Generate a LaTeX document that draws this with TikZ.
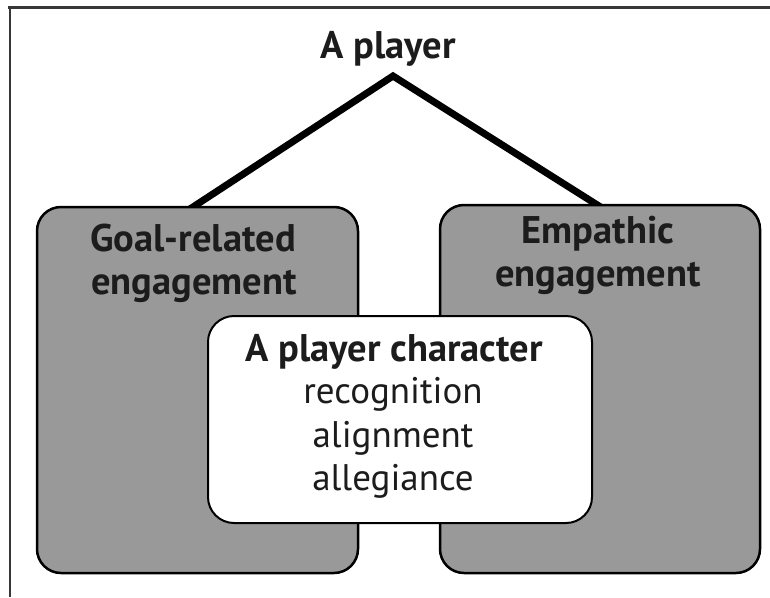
\documentclass[tikz,border=0pt]{standalone}
\usepackage{fontspec}
\setmainfont{PT Sans}
\usetikzlibrary{calc,backgrounds}
\definecolor{boxgray}{RGB}{153,153,153}
\definecolor{inkdark}{RGB}{28,28,28}
\definecolor{framegray}{RGB}{55,55,55}
\begin{document}
\begin{tikzpicture}[x=1pt,y=-1pt,
  panel/.style={draw=black, line width=2.5pt, fill=boxgray, rounded corners=24pt, inner sep=0pt},
  core/.style={draw=black, line width=2pt, fill=white, rounded corners=26pt, inner sep=0pt},
  heading/.style={font=\fontsize{38.5}{43}\selectfont\bfseries, text=inkdark, anchor=base, inner sep=0pt},
  body/.style={font=\fontsize{37}{43}\selectfont, text=inkdark, anchor=base, inner sep=0pt},
  link/.style={line width=7pt, line join=miter}]
\useasboundingbox (0,0) rectangle (770,597);

% frame lines along the top and the left side
\draw[framegray, line width=2.5pt] (8,7.5) -- (770,7.5);
\draw[framegray, line width=1.5pt] (10,7.5) -- (10,597);

% title
\node[heading] (title) at (388,58) {A player};
\coordinate (apex) at (393,76);

% the two engagement panels
\node[panel, minimum width=321pt, minimum height=366pt] (goal) at (197.5,390) {};
\node[panel, minimum width=320pt, minimum height=368pt] (emp) at (600,389) {};

\node[heading] (goal1) at (193,251) {Goal-related};
\node[heading] (goal2) at (194,294) {engagement};
\node[heading] (emp1) at (598,243) {Empathic};
\node[heading] (emp2) at (598,286) {engagement};

% central player-character box
\node[core, minimum width=384pt, minimum height=207pt] (pc) at (400,419.5) {};
\node[heading] (pc1) at (394,361) {A player character};
\node[body] (pc2) at (393,403) {recognition};
\node[body] (pc3) at (393,447) {alignment};
\node[body] (pc4) at (393,490) {allegiance};

% branches from the title down to the panels
\begin{scope}[on background layer]
  \draw[link] ($(goal.north west)+(153,4)$) -- (apex) -- ($(emp.north west)+(163,4)$);
\end{scope}
\end{tikzpicture}
\end{document}
